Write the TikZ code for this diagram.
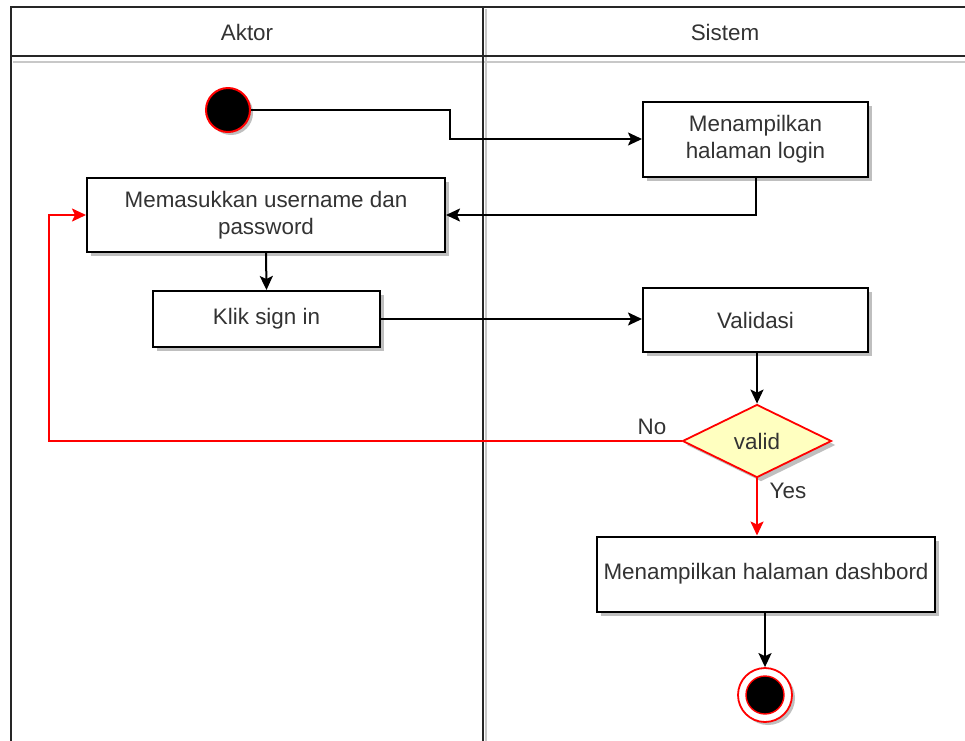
\documentclass[tikz,border=0pt]{standalone}
\usepackage{fontspec}
\setmainfont{Liberation Sans}
\usetikzlibrary{shapes.geometric,arrows.meta,shadows}
\definecolor{txt}{HTML}{333333}
\definecolor{dfill}{HTML}{FFFFC0}
\definecolor{lanegray}{HTML}{C8C8C8}
\tikzset{
  lbl/.style={font=\fontsize{22.4}{27}\selectfont, text=txt},
  act/.style={draw=black, line width=2pt, fill=white, lbl, align=center,
    drop shadow={shadow xshift=4pt, shadow yshift=-4pt, fill=black!25, opacity=1}},
  flow/.style={line width=2pt, -{Stealth[length=14pt,width=13pt,inset=3pt]}},
  redflow/.style={line width=2pt, draw=red, -{Stealth[length=14pt,width=13pt,inset=3pt,fill=red]}},
  lane/.style={line width=2pt, draw=black!85},
  laneshade/.style={line width=2pt, draw=lanegray}
}
\begin{document}
\begin{tikzpicture}[x=1pt,y=-1pt]
\useasboundingbox (0,0) rectangle (965,740);
\fill[white] (0,0) rectangle (965,740);

% swimlane frame
\draw[laneshade] (13,62) -- (966,62);
\draw[laneshade] (486,57) -- (486,741);
\draw[laneshade] (486,9) -- (486,55);
\draw[lane] (966,7) -- (11,7) -- (11,741);
\draw[lane] (11,56) -- (966,56);
\draw[lane] (483,7) -- (483,741);
\node[lbl] (aktor) at (247,32) {Aktor};
\node[lbl] (sistem) at (725,32) {Sistem};

% start node
\fill[black!25] (231,113) circle (22);
\node[circle, draw=red, line width=2pt, fill=black, minimum size=44pt, inner sep=0] (start) at (228,110) {};

% activities
\node[act, minimum width=225pt, minimum height=75pt] (login) at (755.5,139) {Menampilkan\\halaman login};
\node[act, minimum width=358pt, minimum height=74pt] (input) at (266,215) {Memasukkan username dan\\password};
\node[act, minimum width=227pt, minimum height=56pt] (klik) at (266.5,319) {Klik sign in};
\node[act, minimum width=225pt, minimum height=64pt] (validasi) at (755.5,320) {Validasi};
\node[diamond, draw=red, line width=1.8pt, fill=dfill, lbl, inner sep=0, aspect=2,
  minimum width=149pt, minimum height=73pt,
  drop shadow={shadow xshift=4pt, shadow yshift=-4pt, fill=black!25, opacity=1}] (valid) at (757,441) {valid};
\node[act, minimum width=338pt, minimum height=75pt] (dash) at (766,574) {Menampilkan halaman dashbord};

% end node
\fill[black!25] (768,698) circle (27);
\node[circle, draw=red, line width=1.8pt, fill=white, minimum size=54pt, inner sep=0] (final) at (765,695) {};
\node[circle, draw=red, line width=1.4pt, fill=black, minimum size=38pt, inner sep=0] (finalin) at (765,695) {};

% connectors
\draw[flow] (start.east) -- (450,110) |- (login.west);
\draw[flow] (login.south) |- (input.east);
\draw[flow] (input.south) -- (klik.north);
\draw[flow] (klik.east) -- (klik.east -| validasi.west);
\draw[flow] (validasi.south -| valid.north) -- (valid.north);
\draw[redflow] (valid.west) -- (49,441) |- (input.west);
\draw[redflow] (valid.south) -- (valid.south |- dash.north);
\draw[flow] (dash.south -| final.north) -- (final.north);

% guard labels
\node[lbl] (no) at (652,427) {No};
\node[lbl] (yes) at (788,491) {Yes};
\end{tikzpicture}
\end{document}
